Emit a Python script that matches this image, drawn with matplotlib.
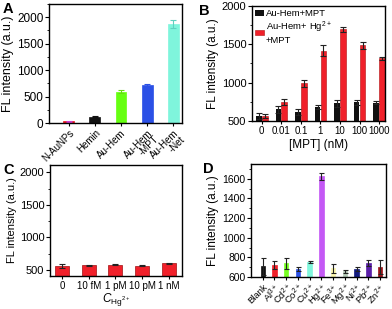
import numpy as np
import matplotlib
matplotlib.use("Agg")
import matplotlib.pyplot as plt
from matplotlib.ticker import MultipleLocator, AutoMinorLocator

plt.rcParams['font.family'] = ['Liberation Sans', 'DejaVu Sans']
plt.rcParams['mathtext.fontset'] = 'custom'
plt.rcParams['mathtext.rm'] = 'Liberation Sans'
plt.rcParams['mathtext.it'] = 'Liberation Sans:italic'

# panel A
a_labels = ['N-AuNPs', 'Hemin', 'Au-Hem', 'Au-Hem\n-MPT', 'Au-Hem\n-Net']
a_values = [30, 120, 590, 710, 1870]
a_errors = [10, 15, 30, 35, 80]
a_colors = ['#e8141b', '#111111', '#66ff11', '#2b50e6', '#7ff5dc']
a_ecolors = ['#d040d0', '#111111', '#66dd11', '#2b50e6', '#60d0c0']

# panel B
b_labels = ['0', '0.01', '0.1', '1', '10', '100', '1000']
b_mpt = [570, 655, 620, 682, 730, 743, 740]
b_mpt_err = [40, 45, 40, 25, 45, 35, 20]
b_hg = [566, 748, 990, 1419, 1697, 1485, 1318]
b_hg_err = [30, 35, 50, 70, 30, 40, 20]

# panel C
c_labels = ['0', '10 fM', '1 pM', '10 pM', '1 nM']
c_values = [560, 575, 585, 570, 605]
c_errors = [35, 10, 10, 8, 10]

# panel D
d_labels = ['Blank', 'Al$^{3+}$', 'Cd$^{2+}$', 'Co$^{2+}$', 'Cu$^{2+}$', 'Hg$^{2+}$',
            'Fe$^{3+}$', 'Mg$^{2+}$', 'Ni$^{2+}$', 'Pb$^{2+}$', 'Zn$^{2+}$']
d_values = [707, 721, 741, 677, 751, 1623, 691, 657, 681, 741, 701]
d_errors = [85, 37, 57, 20, 7, 40, 46, 12, 25, 30, 70]
d_colors = ['#111111', '#f0202a', '#77ff22', '#2b50e6', '#80f7dc', '#c458f5',
            '#fbf7b0', '#b3c9b6', '#121a80', '#5a1ea8', '#9c1418']

W, H = 392, 309
fig = plt.figure(figsize=(W / 100, H / 100), dpi=100)


def box(x0, x1, y0, y1):
    return fig.add_axes([x0 / W, 1 - y1 / H, (x1 - x0) / W, (y1 - y0) / H])


def style(ax, yfs, xfs):
    for s in ax.spines.values():
        s.set_linewidth(1.0)
    ax.tick_params(axis='y', which='major', direction='out', length=3, width=0.8, labelsize=yfs, pad=1)
    ax.tick_params(axis='y', which='minor', direction='out', length=1.6, width=0.6)
    ax.tick_params(axis='x', which='major', direction='out', length=2, width=0.8, labelsize=xfs, pad=1.5)
    ax.yaxis.set_minor_locator(AutoMinorLocator(2))


# A
axA = box(49, 182, 4, 123)
xa = np.arange(len(a_values))
axA.bar(xa, a_values, width=0.42, color=a_colors, edgecolor=a_colors, linewidth=0.5)
for i in range(len(xa)):
    axA.errorbar(xa[i], a_values[i], yerr=a_errors[i], fmt='none', ecolor=a_ecolors[i],
                 elinewidth=0.8, capsize=2.5, capthick=0.8)
axA.set_xlim(-0.76, 4.34)
axA.set_ylim(0, 2250)
axA.yaxis.set_major_locator(MultipleLocator(500))
style(axA, 8.5, 7)
axA.set_xticks(xa)
axA.set_xticklabels(a_labels, rotation=45, ha='right', rotation_mode='anchor', linespacing=0.85)
axA.set_ylabel('FL intensity (a.u.)', fontsize=9, labelpad=2)

# B
axB = box(252, 385, 6, 121)
xb = np.arange(len(b_labels))
axB.bar(xb - 0.15, b_mpt, width=0.29, color='#111111', label='Au-Hem+MPT')
axB.bar(xb + 0.15, b_hg, width=0.29, color='#f0202a', edgecolor='#b01010', linewidth=0.4,
        label='Au-Hem+ Hg$^{2+}$\n+MPT')
axB.errorbar(xb - 0.15, b_mpt, yerr=b_mpt_err, fmt='none', ecolor='#222222',
             elinewidth=0.8, capsize=2, capthick=0.8)
axB.errorbar(xb + 0.15, b_hg, yerr=b_hg_err, fmt='none', ecolor='#222222',
             elinewidth=0.8, capsize=2, capthick=0.8)
axB.set_xlim(-0.5, 6.3)
axB.set_ylim(500, 2000)
axB.yaxis.set_major_locator(MultipleLocator(500))
style(axB, 8, 7)
axB.set_xticks(xb)
axB.set_xticklabels(b_labels)
axB.set_xlabel('[MPT] (nM)', fontsize=8.5, labelpad=2)
axB.set_ylabel('FL intensity (a.u.)', fontsize=8.5, labelpad=2)
axB.legend(loc='upper left', frameon=False, fontsize=6.8,
           handlelength=0.9, handleheight=0.5, handletextpad=0.2, borderaxespad=0.1,
           borderpad=0.25, labelspacing=0.1)

# C
axC = box(50, 182, 165, 276)
xc = np.arange(len(c_labels))
axC.bar(xc, c_values, width=0.53, color='#f0202a', edgecolor='#a01010', linewidth=0.5)
axC.errorbar(xc, c_values, yerr=c_errors, fmt='none', ecolor='#222222',
             elinewidth=0.8, capsize=2, capthick=0.8)
axC.set_xlim(-0.45, 4.5)
axC.set_ylim(410, 2110)
axC.yaxis.set_major_locator(MultipleLocator(500))
style(axC, 8, 7)
axC.set_xticks(xc)
axC.set_xticklabels(c_labels)
axC.set_xlabel(r'$\mathit{C}_{\mathrm{Hg}^{2+}}$', fontsize=8.5, labelpad=0)
axC.set_ylabel('FL intensity (a.u.)', fontsize=8, labelpad=2)

# D
axD = box(251, 386, 164, 277)
xd = np.arange(len(d_labels))
axD.bar(xd, d_values, width=0.38, color=d_colors, edgecolor=d_colors, linewidth=0.5)
axD.errorbar(xd, d_values, yerr=d_errors, fmt='none', ecolor='#222222',
             elinewidth=0.8, capsize=1.8, capthick=0.8)
axD.set_xlim(-1.0, 10.5)
axD.set_ylim(600, 1750)
axD.yaxis.set_major_locator(MultipleLocator(200))
style(axD, 7.5, 6.8)
axD.set_xticks(xd)
axD.set_xticklabels(d_labels, rotation=45, ha='right', rotation_mode='anchor')
axD.set_ylabel('FL intensity (a.u.)', fontsize=8.5, labelpad=2)

for ax, letter, dx in [(axA, 'A', 46), (axB, 'B', 53), (axC, 'C', 47), (axD, 'D', 48)]:
    pos = ax.get_position()
    fig.text(pos.x0 - dx / W, pos.y1 - 12 / H, letter, fontsize=10.5, fontweight='bold',
             ha='left', va='bottom')

fig.savefig('out.png', dpi=100)
